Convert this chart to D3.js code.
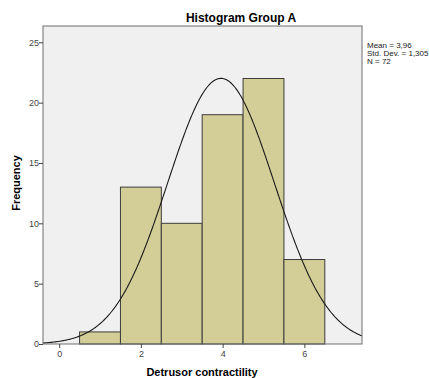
<!DOCTYPE html>
<html>
<head>
<meta charset="utf-8">
<script src="https://cdn.jsdelivr.net/npm/d3@7"></script>
<style>
  body { margin: 0; background: #fff; }
  text { font-family: Arial, "Liberation Sans", sans-serif; }
</style>
</head>
<body>
<div id="chart"></div>
<script>
const binStarts = [0.5, 1.5, 2.5, 3.5, 4.5, 5.5];
const binEnds = [1.5, 2.5, 3.5, 4.5, 5.5, 6.5];
const counts = [1, 13, 10, 19, 22, 7];
const xTicks = [0, 2, 4, 6];
const yTicks = [0, 5, 10, 15, 20, 25];
const stats = ["Mean = 3,96", "Std. Dev. = 1,305", "N = 72"];
const mean = 3.96, sd = 1.305, n = 72, binWidth = 1;

const width = 429, height = 378;
const margin = { top: 26, right: 67, bottom: 34, left: 43 };

const svg = d3.select("#chart")
    .append("svg")
    .attr("width", width)
    .attr("height", height);

const x = d3.scaleLinear()
    .domain([-0.395, 7.41])
    .range([margin.left, width - margin.right]);

const y = d3.scaleLinear()
    .domain([0, 26.35])
    .range([height - margin.bottom, margin.top]);

// plot background
svg.append("rect")
    .attr("x", margin.left)
    .attr("y", margin.top)
    .attr("width", x.range()[1] - x.range()[0])
    .attr("height", y.range()[0] - y.range()[1])
    .attr("fill", "#f0f0f0");

// bars
svg.append("g")
    .selectAll("rect")
    .data(counts)
    .join("rect")
    .attr("x", (d, i) => x(binStarts[i]))
    .attr("width", (d, i) => x(binEnds[i]) - x(binStarts[i]))
    .attr("y", d => y(d))
    .attr("height", d => y(0) - y(d))
    .attr("fill", "#d3ce97")
    .attr("stroke", "#3c3c3c")
    .attr("stroke-width", 1);

// normal curve
const curveX = d3.range(x.domain()[0], x.domain()[1] + 0.01, 0.02);
const normal = v => n * binWidth / (sd * Math.sqrt(2 * Math.PI)) * Math.exp(-0.5 * ((v - mean) / sd) ** 2);
svg.append("path")
    .datum(curveX)
    .attr("fill", "none")
    .attr("stroke", "#1a1a1a")
    .attr("stroke-width", 1.1)
    .attr("d", d3.line().x(d => x(d)).y(d => y(normal(d))));

// frame
svg.append("rect")
    .attr("x", margin.left)
    .attr("y", margin.top)
    .attr("width", x.range()[1] - x.range()[0])
    .attr("height", y.range()[0] - y.range()[1])
    .attr("fill", "none")
    .attr("stroke", "#6e6e6e")
    .attr("stroke-width", 1);

// axes
const xAxis = svg.append("g")
    .attr("transform", `translate(0,${y(0)})`)
    .call(d3.axisBottom(x).tickValues(xTicks).tickSize(4).tickSizeOuter(0));
const yAxis = svg.append("g")
    .attr("transform", `translate(${margin.left},0)`)
    .call(d3.axisLeft(y).tickValues(yTicks).tickSize(4).tickSizeOuter(0));

[xAxis, yAxis].forEach(g => {
    g.select(".domain").remove();
    g.selectAll(".tick line").attr("stroke", "#444");
    g.selectAll(".tick text")
        .attr("fill", "#444")
        .style("font-size", "9px")
        .style("font-family", "Arial, 'Liberation Sans', sans-serif");
});
yAxis.selectAll(".tick text").attr("x", -4);
xAxis.selectAll(".tick text").attr("y", 7);

// title
svg.append("text")
    .attr("x", 241)
    .attr("y", 22)
    .attr("text-anchor", "middle")
    .style("font-size", "12px")
    .style("font-weight", "bold")
    .text("Histogram Group A");

// axis titles
svg.append("text")
    .attr("x", 202)
    .attr("y", 376)
    .attr("text-anchor", "middle")
    .style("font-size", "11px")
    .style("font-weight", "bold")
    .text("Detrusor contractility");

svg.append("text")
    .attr("transform", "translate(20,183) rotate(-90)")
    .attr("text-anchor", "middle")
    .style("font-size", "11px")
    .style("font-weight", "bold")
    .text("Frequency");

// stats
svg.append("g")
    .selectAll("text")
    .data(stats)
    .join("text")
    .attr("x", 367)
    .attr("y", (d, i) => 48 + i * 8)
    .style("font-size", "8px")
    .attr("fill", "#222")
    .text(d => d);
</script>
</body>
</html>
